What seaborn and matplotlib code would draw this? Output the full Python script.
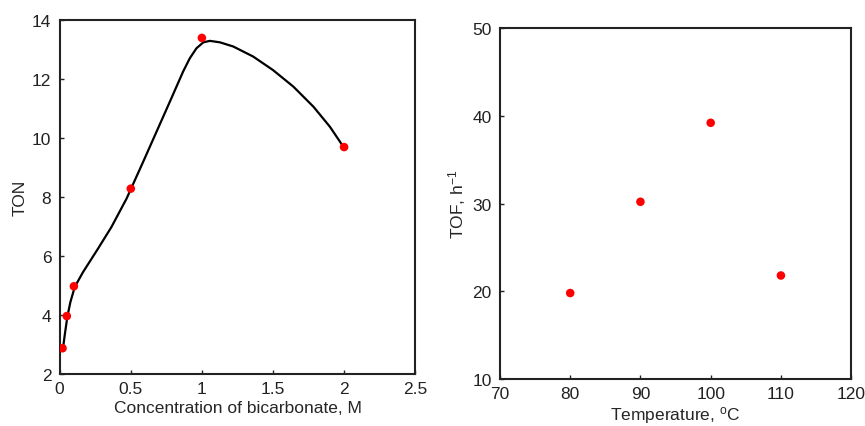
import pandas as pd
import seaborn as sns
import matplotlib.pyplot as plt

sns.set_style("white")
plt.rcParams['font.family'] = ['Liberation Sans', 'DejaVu Sans']
plt.rcParams['mathtext.default'] = 'regular'

# Left panel: TON vs bicarbonate concentration
conc = [0.02, 0.05, 0.1, 0.5, 1.0, 2.0]
ton = [2.87, 3.96, 4.97, 8.28, 13.39, 9.69]

# smooth trend line
curve_x = [0.023, 0.035, 0.054, 0.075, 0.106, 0.164, 0.27, 0.364, 0.47, 0.587,
           0.681, 0.775, 0.868, 0.915, 0.962, 1.01, 1.056, 1.127, 1.22, 1.36,
           1.50, 1.643, 1.784, 1.90, 1.995]
curve_y = [2.85, 3.30, 3.94, 4.43, 4.95, 5.45, 6.25, 6.98, 7.94, 9.19,
           10.21, 11.23, 12.25, 12.70, 13.04, 13.24, 13.29, 13.24, 13.10, 12.76,
           12.30, 11.74, 11.06, 10.38, 9.70]

# Right panel: TOF vs temperature
temp = [80, 90, 100, 110]
tof = [19.8, 30.2, 39.2, 21.8]

df_left = pd.DataFrame({'conc': conc, 'ton': ton})
df_curve = pd.DataFrame({'x': curve_x, 'y': curve_y})
df_right = pd.DataFrame({'temp': temp, 'tof': tof})

fig = plt.figure(figsize=(8.65, 4.27), dpi=100)
ax1 = fig.add_axes([0.069, 0.122, 0.411, 0.829])
ax2 = fig.add_axes([0.578, 0.110, 0.406, 0.822])

sns.lineplot(data=df_curve, x='x', y='y', sort=False, color='black', linewidth=1.6,
             solid_joinstyle='round', ax=ax1)
sns.scatterplot(data=df_left, x='conc', y='ton', color='#ff0000', s=38, edgecolor='none', ax=ax1, zorder=3)
ax1.set_xlim(0, 2.5)
ax1.set_ylim(2, 14)
ax1.set_xticks([0, 0.5, 1, 1.5, 2, 2.5])
ax1.set_xticklabels(['0', '0.5', '1', '1.5', '2', '2.5'])
ax1.set_yticks([2, 4, 6, 8, 10, 12, 14])
ax1.set_xlabel('Concentration of bicarbonate, M', fontsize=12.5, labelpad=3)
ax1.set_ylabel('TON', fontsize=12.5, labelpad=3)

sns.scatterplot(data=df_right, x='temp', y='tof', color='#ff0000', s=38, edgecolor='none', ax=ax2, zorder=3)
ax2.set_xlim(70, 120)
ax2.set_ylim(10, 50)
ax2.set_xticks([70, 80, 90, 100, 110, 120])
ax2.set_yticks([10, 20, 30, 40, 50])
ax2.set_xlabel('Temperature, $^{o}$C', fontsize=12.5, labelpad=2)
ax2.set_ylabel('TOF, h$^{-1}$', fontsize=12.5, labelpad=3)

for ax in (ax1, ax2):
    for sp in ax.spines.values():
        sp.set_linewidth(1.5)
        sp.set_color('#222222')
    ax.tick_params(direction='in', length=3, width=1, labelsize=12.5,
                   bottom=True, left=True, top=False, right=False, colors='#222222')
    ax.tick_params(axis='x', pad=5)
    ax.tick_params(axis='y', pad=6)

plt.savefig('out.png', dpi=100)
